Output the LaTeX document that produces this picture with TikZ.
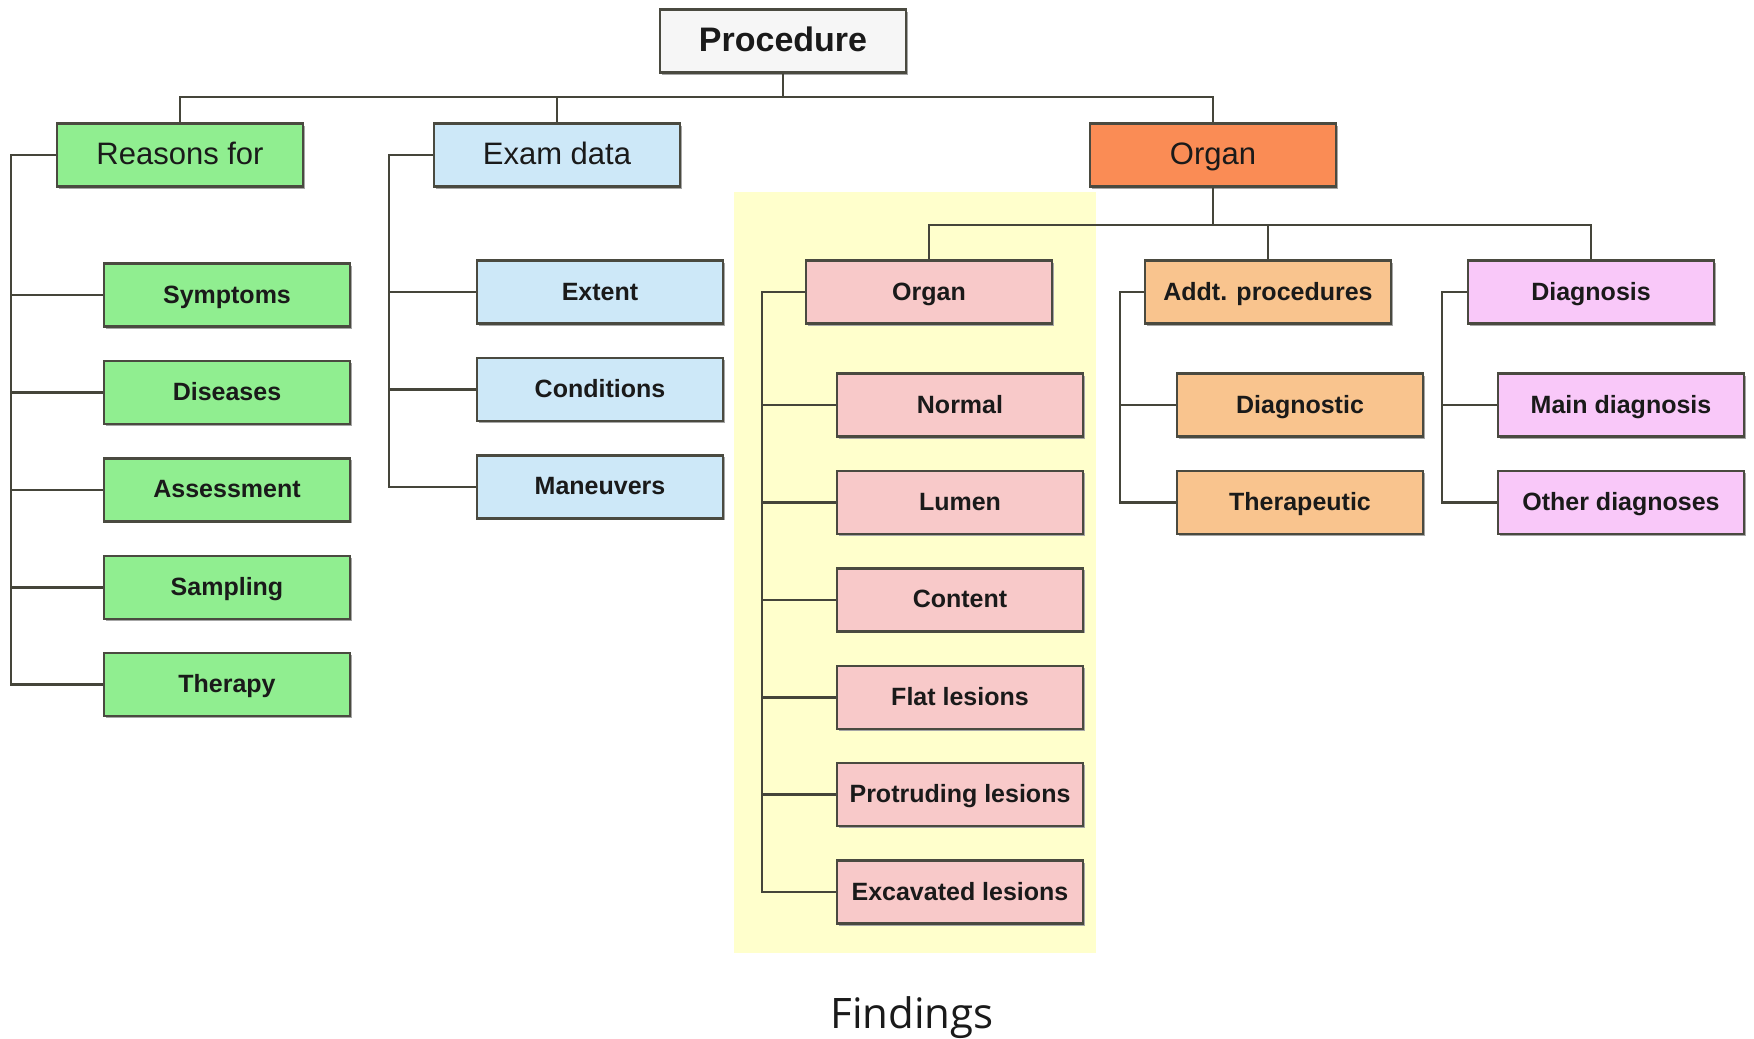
\documentclass[tikz,border=0pt]{standalone}
\usepackage{fontspec}
\setmainfont{Liberation Sans}
\newfontfamily\findfont{Open Sans}
\usepackage{xcolor}
\usetikzlibrary{positioning, shadows}
\definecolor{lnk}{HTML}{45453A}
\definecolor{boxline}{HTML}{4A4A40}
\definecolor{txt}{HTML}{1A1A1A}
\definecolor{procfill}{HTML}{F6F6F6}
\definecolor{grn}{HTML}{90EE90}
\definecolor{blu}{HTML}{CDE8F8}
\definecolor{orgA}{HTML}{FA8C55}
\definecolor{addfill}{HTML}{F9C48E}
\definecolor{pnk}{HTML}{F8C9C9}
\definecolor{vio}{HTML}{F9C8F9}
\definecolor{hilite}{HTML}{FFFFCC}
\tikzset{
    box/.style={draw=boxline, line width=2.4pt, rectangle, minimum width=246pt, minimum height=63pt, inner sep=0pt, align=center, text=txt, text height=20pt, text depth=4pt, font=\fontsize{25}{29}\selectfont\bfseries, drop shadow={shadow xshift=1.5pt, shadow yshift=-2pt, fill=black!35, opacity=1}},
    headbox/.style={box, text height=24pt, text depth=5pt, font=\fontsize{31}{36}\selectfont},
    link/.style={draw=lnk, line width=2.6pt}
}

\begin{document}
\begin{tikzpicture}[x=1pt, y=-1pt, node distance=32pt]
    \useasboundingbox (0,0) rectangle (1754,1039);
    \fill[hilite] (734,192) rectangle (1096,953);
    % top levels
    \node (proc) [box, fill=procfill, text height=27pt, text depth=6pt, font=\fontsize{34}{40}\selectfont\bfseries] at (783,41) {Procedure};
    \node (rsn) [headbox, fill=grn] at (180,155) {Reasons for};
    \node (exm) [headbox, fill=blu] at (557,155) {Exam data};
    \node (org) [headbox, fill=orgA] at (1213,155) {Organ};
    \node (org2) [box, fill=pnk] at (929,292) {Organ};
    \node (add) [box, fill=addfill] at (1268,292) {Addt. procedures};
    \node (dgn) [box, fill=vio] at (1591,292) {Diagnosis};
    % reasons for
    \node (sym) [box, fill=grn] at (227,295) {Symptoms};
    \node (dis) [box, fill=grn, below=of sym] {Diseases};
    \node (ass) [box, fill=grn, below=of dis] {Assessment};
    \node (sam) [box, fill=grn, below=of ass] {Sampling};
    \node (thr) [box, fill=grn, below=of sam] {Therapy};
    % exam data
    \node (ext) [box, fill=blu] at (600,292) {Extent};
    \node (cnd) [box, fill=blu, below=of ext] {Conditions};
    \node (man) [box, fill=blu, below=of cnd] {Maneuvers};
    % findings
    \node (nrm) [box, fill=pnk] at (960,405) {Normal};
    \node (lum) [box, fill=pnk, below=of nrm] {Lumen};
    \node (cnt) [box, fill=pnk, below=of lum] {Content};
    \node (flt) [box, fill=pnk, below=of cnt] {Flat lesions};
    \node (pro) [box, fill=pnk, below=of flt] {Protruding lesions};
    \node (exc) [box, fill=pnk, below=of pro] {Excavated lesions};
    % addt. procedures and diagnosis
    \node (dia) [box, fill=addfill] at (1300,405) {Diagnostic};
    \node (ter) [box, fill=addfill, below=of dia] {Therapeutic};
    \node (mdg) [box, fill=vio] at (1621,405) {Main diagnosis};
    \node (odg) [box, fill=vio, below=of mdg] {Other diagnoses};
    \node (fnd) [font=\findfont\fontsize{42}{48}\selectfont, text=txt] at (912,1018) {Findings};

    % connectors
    \coordinate (topbus) at (783,97);
    \coordinate (orgbus) at (1213,225);
    \coordinate (rsnT) at (11,0);
    \coordinate (exmT) at (389,0);
    \coordinate (orgT) at (762,0);
    \coordinate (addT) at (1120,0);
    \coordinate (dgnT) at (1442,0);
    \foreach \n in {rsn,exm,org}
        \draw [link] (proc.south) -- (topbus) -| (\n.north);
    \foreach \n in {org2,add,dgn}
        \draw [link] (org.south) -- (orgbus) -| (\n.north);
    \foreach \c in {sym,dis,ass,sam,thr}
        \draw [link] (rsn.west) -- (rsn.west -| rsnT) |- (\c.west);
    \foreach \c in {ext,cnd,man}
        \draw [link] (exm.west) -- (exm.west -| exmT) |- (\c.west);
    \foreach \c in {nrm,lum,cnt,flt,pro,exc}
        \draw [link] (org2.west) -- (org2.west -| orgT) |- (\c.west);
    \foreach \c in {dia,ter}
        \draw [link] (add.west) -- (add.west -| addT) |- (\c.west);
    \foreach \c in {mdg,odg}
        \draw [link] (dgn.west) -- (dgn.west -| dgnT) |- (\c.west);
\end{tikzpicture}
\end{document}
